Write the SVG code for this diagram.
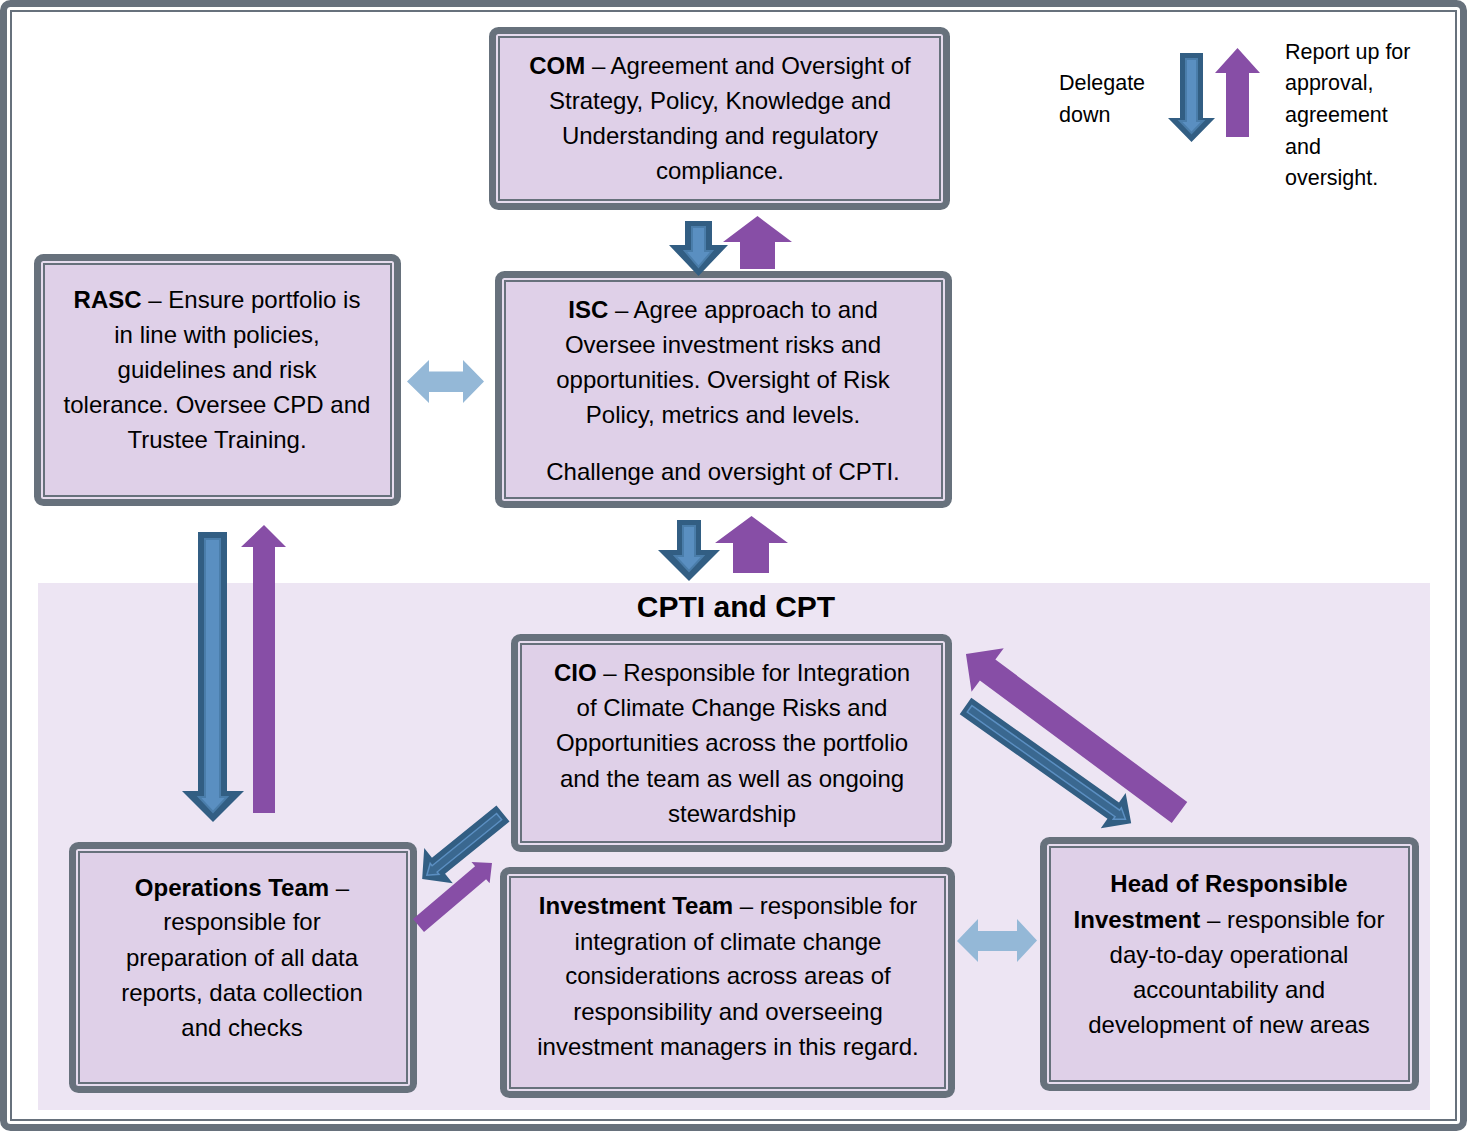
<svg xmlns="http://www.w3.org/2000/svg" width="1467" height="1131" viewBox="0 0 1467 1131">
<defs>
<style>
.t{font-family:"Liberation Sans",Arial,sans-serif;font-size:24px;fill:#000;text-anchor:middle}
.b{font-weight:bold}
.lg{font-family:"Liberation Sans",Arial,sans-serif;font-size:21.5px;fill:#000}
.ttl{font-family:"Liberation Sans",Arial,sans-serif;font-size:30px;font-weight:bold;fill:#000;text-anchor:middle}
.bo{fill:#e6dcee;stroke:#67717c;stroke-width:7}
.bi{fill:#dfd0e8;stroke:#67717c;stroke-width:2}
.pu{fill:#874ea6}
.bl{fill:#325e83}
.bli{fill:#5a8fc1;stroke:#4a7daa;stroke-width:2}
.lb{fill:#94b8d7}
</style>
</defs>
<rect x="0" y="0" width="1467" height="1131" fill="#fff"/>
<rect x="38" y="583" width="1392" height="527" fill="#ede5f3"/>
<rect x="3.5" y="3.5" width="1460" height="1124" rx="7" fill="none" stroke="#67717c" stroke-width="7"/>
<rect x="11" y="11" width="1445" height="1109" fill="none" stroke="#67717c" stroke-width="2"/>

<g id="legend">
<text class="lg" x="1059" y="90">Delegate</text>
<text class="lg" x="1059" y="122">down</text>
<text class="lg" x="1285" y="59">Report up for</text>
<text class="lg" x="1285" y="90">approval,</text>
<text class="lg" x="1285" y="122">agreement</text>
<text class="lg" x="1285" y="154">and</text>
<text class="lg" x="1285" y="185">oversight.</text>
<polygon class="bl" points="1180,53 1203,53 1203,118 1215,118 1191.5,142 1168,118 1180,118"/>
<polygon class="bli" points="1186,59 1197,59 1197,121 1203,121 1191.5,133 1180,121 1186,121"/>
<polygon class="pu" points="1226,137 1249,137 1249,73 1260,73 1237.5,48 1215,73 1226,73"/>
</g>

<g id="title"><text class="ttl" x="736" y="617">CPTI and CPT</text></g>

<g id="COM">
<rect class="bo" x="492.5" y="30.5" width="454" height="176" rx="6"/>
<rect class="bi" x="499" y="37" width="441" height="163"/>
<text class="t" x="720" y="74"><tspan class="b">COM</tspan> – Agreement and Oversight of</text>
<text class="t" x="720" y="109">Strategy, Policy, Knowledge and</text>
<text class="t" x="720" y="144">Understanding and regulatory</text>
<text class="t" x="720" y="179">compliance.</text>
</g>

<g id="ISC">
<rect class="bo" x="498.5" y="274.5" width="450" height="230" rx="6"/>
<rect class="bi" x="505" y="281" width="437" height="217"/>
<text class="t" x="723" y="318"><tspan class="b">ISC</tspan> – Agree approach to and</text>
<text class="t" x="723" y="353">Oversee investment risks and</text>
<text class="t" x="723" y="388">opportunities. Oversight of Risk</text>
<text class="t" x="723" y="423">Policy, metrics and levels.</text>
<text class="t" x="723" y="480">Challenge and oversight of CPTI.</text>
</g>

<g id="RASC">
<rect class="bo" x="37.5" y="257.5" width="360" height="245" rx="6"/>
<rect class="bi" x="44" y="264" width="347" height="232"/>
<text class="t" x="217" y="308"><tspan class="b">RASC</tspan> – Ensure portfolio is</text>
<text class="t" x="217" y="343">in line with policies,</text>
<text class="t" x="217" y="378">guidelines and risk</text>
<text class="t" x="217" y="413">tolerance. Oversee CPD and</text>
<text class="t" x="217" y="448">Trustee Training.</text>
</g>

<g id="CIO">
<rect class="bo" x="514.5" y="637.5" width="434" height="211" rx="6"/>
<rect class="bi" x="521" y="644" width="421" height="198"/>
<text class="t" x="732" y="681"><tspan class="b">CIO</tspan> – Responsible for Integration</text>
<text class="t" x="732" y="716">of Climate Change Risks and</text>
<text class="t" x="732" y="751">Opportunities across the portfolio</text>
<text class="t" x="732" y="787">and the team as well as ongoing</text>
<text class="t" x="732" y="822">stewardship</text>
</g>

<g id="OPS">
<rect class="bo" x="72.5" y="845.5" width="341" height="244" rx="6"/>
<rect class="bi" x="79" y="852" width="328" height="231"/>
<text class="t" x="242" y="896"><tspan class="b">Operations Team</tspan> –</text>
<text class="t" x="242" y="930">responsible for</text>
<text class="t" x="242" y="966">preparation of all data</text>
<text class="t" x="242" y="1001">reports, data collection</text>
<text class="t" x="242" y="1036">and checks</text>
</g>

<g id="INV">
<rect class="bo" x="503.5" y="870.5" width="448" height="224" rx="6"/>
<rect class="bi" x="510" y="877" width="435" height="211"/>
<text class="t" x="728" y="914"><tspan class="b">Investment Team</tspan> – responsible for</text>
<text class="t" x="728" y="950">integration of climate change</text>
<text class="t" x="728" y="984">considerations across areas of</text>
<text class="t" x="728" y="1020">responsibility and overseeing</text>
<text class="t" x="728" y="1055">investment managers in this regard.</text>
</g>

<g id="HRI">
<rect class="bo" x="1043.5" y="840.5" width="372" height="247" rx="6"/>
<rect class="bi" x="1050" y="847" width="359" height="234"/>
<text class="t" x="1229" y="892" font-weight="bold">Head of Responsible</text>
<text class="t" x="1229" y="928"><tspan class="b">Investment</tspan> – responsible for</text>
<text class="t" x="1229" y="963">day-to-day operational</text>
<text class="t" x="1229" y="998">accountability and</text>
<text class="t" x="1229" y="1033">development of new areas</text>
</g>

<g id="connectors">
<polygon class="bl" points="685,221 712,221 712,245 728,245 698.5,276 669,245 685,245"/>
<polygon class="bli" points="692,227 705,227 705,251 712,251 698.5,267 685,251 692,251"/>
<polygon class="pu" points="740,269 775,269 775,242 792,242 757.5,216 723,242 740,242"/>
<polygon class="bl" points="677,520 701,520 701,550 720,550 689,581 658,550 677,550"/>
<polygon class="bli" points="683,526 695,526 695,556 703,556 689,571 675,556 683,556"/>
<polygon class="pu" points="733,573 769,573 769,543 788,543 751.5,516 715,543 733,543"/>
<polygon class="bl" points="198,532 227,532 227,791 244,791 213,822 182,791 198,791"/>
<polygon class="bli" points="205,539 220,539 220,797 227,797 213,812 199,797 205,797"/>
<polygon class="pu" points="253,813 275,813 275,547 286,547 264,525 241,547 253,547"/>
<polygon class="lb" points="407,381.5 429,360 429,371.5 463,371.5 463,360 484,381.5 463,403 463,392 429,392 429,403"/>
<polygon class="lb" points="957,941 978,919 978,931 1017,931 1017,919 1037,940.5 1017,962 1017,951 978,951 978,962"/>
<polygon class="pu" transform="translate(1179.5,812.5) rotate(216.6)" points="0,-13 239,-13 239,-27 266,0 239,27 239,13 0,13"/>
<g transform="translate(965.5,706) rotate(35.3)">
<polygon class="bl" points="0,-10 181,-10 181,-21.5 203,0 181,21.5 181,10 0,10"/>
<polygon points="5,-4 186,-4 186,-7 196,0 186,7 186,4 5,4" fill="#3a6890" stroke="#5b8fc2" stroke-width="1.5"/>
</g>
<g transform="translate(503,813.5) rotate(141)">
<polygon class="bl" points="0,-10.4 83,-10.4 83,-22.7 104,0 83,22.7 83,10.4 0,10.4"/>
<polygon points="5,-4 88,-4 88,-7 98,0 88,7 88,4 5,4" fill="#3a6890" stroke="#5b8fc2" stroke-width="1.5"/>
</g>
<polygon class="pu" transform="translate(418.5,925.5) rotate(-40.4)" points="0,-8.5 81.5,-8.5 81.5,-14 96.5,0 81.5,14 81.5,8.5 0,8.5"/>
</g>
</svg>
